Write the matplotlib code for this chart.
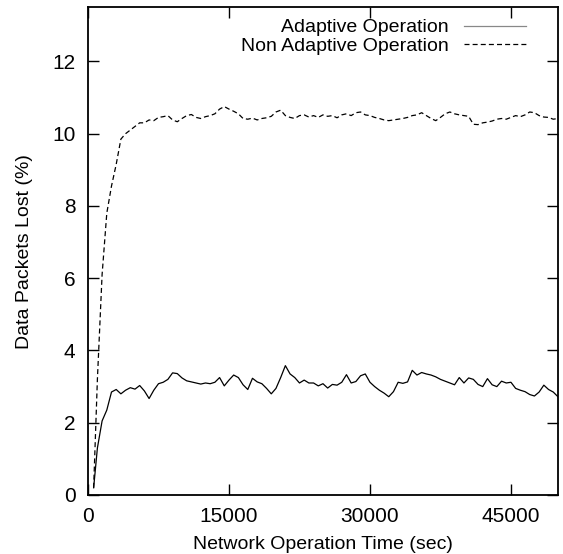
import matplotlib
matplotlib.use('Agg')
import matplotlib.pyplot as plt

plt.rcParams['font.family'] = ['Liberation Sans', 'DejaVu Sans']

# sampled times (sec)
time_sec = [600, 1000, 1500, 2000, 2500, 3000, 3500, 4000, 4500, 5000,
            5500, 6000, 6500, 7000, 7500, 8000, 8500, 9000, 9500, 10000,
            10500, 11000, 11500, 12000, 12500, 13000, 13500, 14000, 14500, 15000,
            15500, 16000, 16500, 17000, 17500, 18000, 18500, 19000, 19500, 20000,
            20500, 21000, 21500, 22000, 22500, 23000, 23500, 24000, 24500, 25000,
            25500, 26000, 26500, 27000, 27500, 28000, 28500, 29000, 29500, 30000,
            30500, 31000, 31500, 32000, 32500, 33000, 33500, 34000, 34500, 35000,
            35500, 36000, 36500, 37000, 37500, 38000, 38500, 39000, 39500, 40000,
            40500, 41000, 41500, 42000, 42500, 43000, 43500, 44000, 44500, 45000,
            45500, 46000, 46500, 47000, 47500, 48000, 48500, 49000, 49500, 50000]

# packets lost (%) with adaptive operation
adaptive = [0.2, 1.3, 2.05, 2.35, 2.85, 2.92, 2.8, 2.9, 2.97, 2.93,
            3.03, 2.88, 2.67, 2.9, 3.08, 3.12, 3.2, 3.38, 3.36, 3.24,
            3.16, 3.13, 3.1, 3.07, 3.1, 3.08, 3.12, 3.25, 3.02, 3.18,
            3.32, 3.25, 3.05, 2.92, 3.23, 3.13, 3.08, 2.95, 2.8, 2.95,
            3.25, 3.58, 3.35, 3.25, 3.1, 3.18, 3.1, 3.1, 3.02, 3.08,
            2.96, 3.06, 3.04, 3.12, 3.33, 3.1, 3.14, 3.3, 3.35, 3.12,
            3.0, 2.9, 2.82, 2.72, 2.86, 3.12, 3.09, 3.13, 3.45, 3.32,
            3.39, 3.35, 3.32, 3.27, 3.2, 3.15, 3.1, 3.05, 3.25, 3.1,
            3.24, 3.2, 3.06, 3.0, 3.22, 3.05, 3.0, 3.15, 3.1, 3.12,
            2.95, 2.9, 2.86, 2.78, 2.74, 2.85, 3.04, 2.92, 2.85, 2.72]

# packets lost (%) without adaptive operation
non_adaptive = [0.2, 3.2, 6.1, 7.8, 8.55, 9.15, 9.85, 10.0, 10.1, 10.2,
                10.3, 10.3, 10.38, 10.36, 10.45, 10.47, 10.5, 10.38, 10.33, 10.42,
                10.5, 10.53, 10.45, 10.42, 10.47, 10.5, 10.55, 10.68, 10.75, 10.68,
                10.62, 10.55, 10.42, 10.4, 10.43, 10.38, 10.42, 10.44, 10.48, 10.6,
                10.65, 10.5, 10.45, 10.42, 10.5, 10.52, 10.46, 10.5, 10.45, 10.52,
                10.48, 10.5, 10.44, 10.52, 10.55, 10.5, 10.58, 10.6, 10.52, 10.5,
                10.45, 10.42, 10.38, 10.36, 10.38, 10.4, 10.42, 10.45, 10.5, 10.52,
                10.58, 10.5, 10.42, 10.36, 10.45, 10.55, 10.6, 10.55, 10.52, 10.5,
                10.48, 10.26, 10.25, 10.3, 10.32, 10.35, 10.4, 10.42, 10.4, 10.45,
                10.5, 10.47, 10.52, 10.6, 10.58, 10.5, 10.46, 10.45, 10.4, 10.42]

fig = plt.figure(figsize=(5.63, 5.54), dpi=100)
ax = fig.add_axes([0.1563, 0.1065, 0.8347, 0.8805])

ax.plot(time_sec, adaptive, color='black', lw=0.9, label='Adaptive Operation')
ax.plot(time_sec, non_adaptive, color='black', lw=0.9, dashes=(4, 2.5),
        label='Non Adaptive Operation')

ax.set_xlim(0, 50000)
ax.set_ylim(0, 13.5)
ax.set_xticks([0, 15000, 30000, 45000])
ax.set_yticks([0, 2, 4, 6, 8, 10, 12])
ax.tick_params(direction='in', length=8, width=1, top=True, right=True,
               labelsize=15, pad=9)
for s in ax.spines.values():
    s.set_linewidth(1.3)

ax.set_xlabel('Network Operation Time (sec)', fontsize=14, labelpad=7)
ax.set_ylabel('Data Packets Lost (%)', fontsize=14, labelpad=14)

leg = ax.legend(loc='upper right', bbox_to_anchor=(0.957, 1.0), frameon=False,
                markerfirst=False, fontsize=14, handlelength=3.2,
                borderaxespad=0.2, labelspacing=0.05, handletextpad=0.8)
leg.get_lines()[0].set_color('#888888')

fig.savefig('out.png', dpi=100)
